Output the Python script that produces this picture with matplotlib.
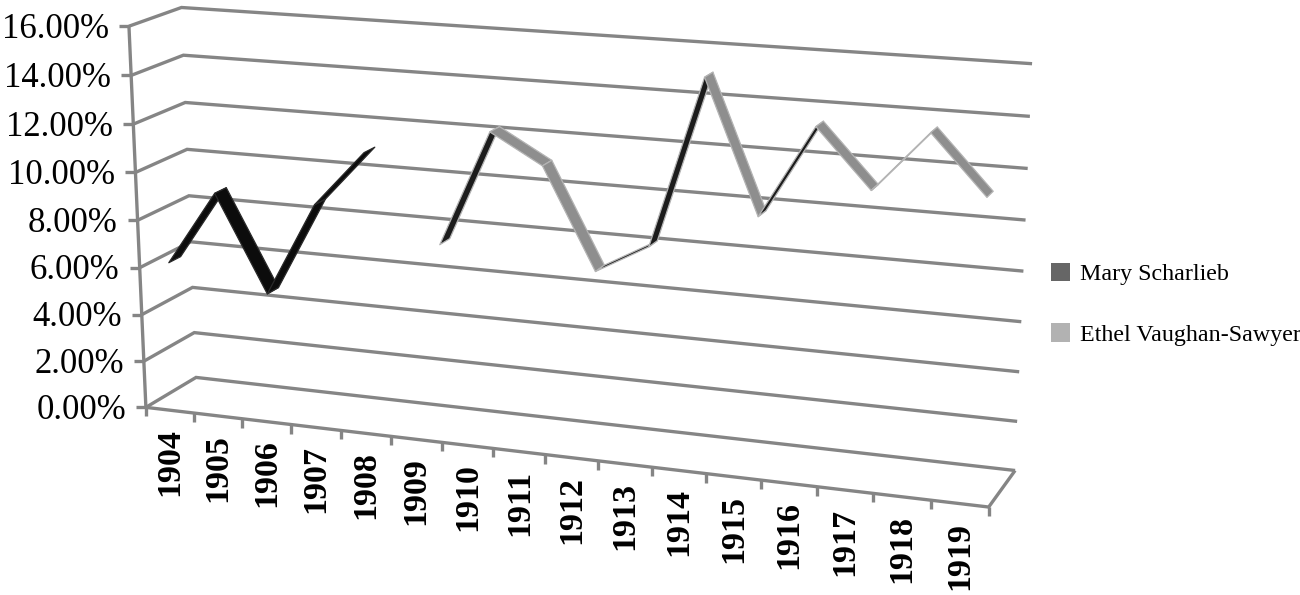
import numpy as np
import matplotlib
matplotlib.use("Agg")
import matplotlib.pyplot as plt
from matplotlib.patches import Patch

years = [str(y) for y in range(1904, 1920)]
pct_ticks = [0, 2, 4, 6, 8, 10, 12, 14, 16]
mary = [6.2, 9.3, 5.3, 9.2, 11.5] + [np.nan] * 11
ethel = [np.nan] * 5 + [7.4, 12.2, 11.0, 6.9, 8.1, 15.0, 9.7, 13.4, 11.1, 13.5, 11.2]
names = ["Mary Scharlieb", "Ethel Vaughan-Sawyer"]
legend_colors = ["#666666", "#b2b2b2"]

# Perspective camera fitted to the visible box corners: (category, percent, depth) -> pixel
calib = np.array([
    (0, 0, 0, 145, 407), (0, 16, 0, 130, 26), (16, 0, 0, 989, 507),
    (0, 0, 1, 197, 377), (0, 16, 1, 180, 8), (16, 0, 1, 1015, 470),
    (16, 16, 1, 1032, 64), (1, 0, 0, 194, 413), (2, 0, 0, 242, 419),
    (3, 0, 0, 291, 425), (4, 0, 0, 340, 431), (5, 0, 0, 391, 437),
    (15, 0, 0, 930, 500), (0, 8, 0, 138, 219), (0, 8, 1, 189, 196),
    (16, 8, 1, 1024, 271),
], float)
A, b = [], []
for X, Y, Z, u, v in calib:
    A.append([X, Y, Z, 1, 0, 0, 0, 0, -u * X, -u * Y, -u * Z]); b.append(u)
    A.append([0, 0, 0, 0, X, Y, Z, 1, -v * X, -v * Y, -v * Z]); b.append(v)
sol = np.linalg.lstsq(np.array(A), np.array(b), rcond=None)[0]
P = np.append(sol, 1.0).reshape(3, 4)


def project(x, y, z):
    h = P @ np.array([x, y, z, 1.0])
    return h[0] / h[2], h[1] / h[2]


plt.rcParams["font.family"] = ["Liberation Serif", "DejaVu Serif"]
fig = plt.figure(figsize=(13, 5.95), dpi=100)
ax = fig.add_axes([0, 0, 1, 1])
ax.set_xlim(0, 1300)
ax.set_ylim(595, 0)
ax.axis("off")

GRID = "#858585"
LW = 2.4


def poly(pts):
    xy = [project(*p) for p in pts]
    ax.plot([q[0] for q in xy], [q[1] for q in xy], color=GRID, lw=LW,
            solid_joinstyle="miter", solid_capstyle="butt")


n = len(years)
for v in pct_ticks:
    poly([(0, v, 0), (0, v, 1), (n, v, 1)])
poly([(0, 0, 0), (n, 0, 0), (n, 0, 1)])
poly([(0, pct_ticks[0], 0), (0, pct_ticks[-1], 0)])

for v in pct_ticks:
    u, w = project(0, v, 0)
    ax.plot([u - 10, u], [w, w], color=GRID, lw=LW, solid_capstyle="butt")
    ax.text(u - 20, w + 3, f"{v:.2f}%", ha="right", va="center", fontsize=25, color="black")

for i in range(n + 1):
    u, w = project(i, 0, 0)
    ax.plot([u, u], [w, w + 9], color=GRID, lw=LW, solid_capstyle="butt")
for i, lab in enumerate(years):
    u, w = project(i + 0.5, 0, 0)
    ax.text(u, w + 18, lab, rotation=90, ha="center", va="top", fontsize=24.5,
            fontweight="bold", color="black")


def ribbon(vals, z0, z1, face, dark, edge, is_dark):
    for i in range(len(vals) - 1):
        a, c = vals[i], vals[i + 1]
        if np.isnan(a) or np.isnan(c):
            continue
        col = dark if is_dark(c - a) else face
        pts = [project(i + 0.5, a, z0), project(i + 1.5, c, z0),
               project(i + 1.5, c, z1), project(i + 0.5, a, z1)]
        ax.fill([p[0] for p in pts], [p[1] for p in pts], facecolor=col,
                edgecolor=edge, lw=0.9, joinstyle="round", zorder=3)


ribbon(mary, 0.10, 0.33, "#0c0c0c", "#0c0c0c", "#2a2a2a", lambda r: True)
ribbon(ethel, 0.60, 0.83, "#8e8e8e", "#1c1c1c", "#b4b4b4", lambda r: r > 3 or 0 < r < 2)

handles = [Patch(facecolor=c, edgecolor="none") for c in legend_colors]
ax.legend(handles, names, loc="upper left", bbox_to_anchor=(1051 / 1300, 1 - 263 / 595),
          frameon=False, fontsize=17.3, handlelength=0.79, handleheight=0.79,
          handletextpad=0.42, labelspacing=1.58, borderpad=0, borderaxespad=0)

fig.savefig("out.png", dpi=100)
